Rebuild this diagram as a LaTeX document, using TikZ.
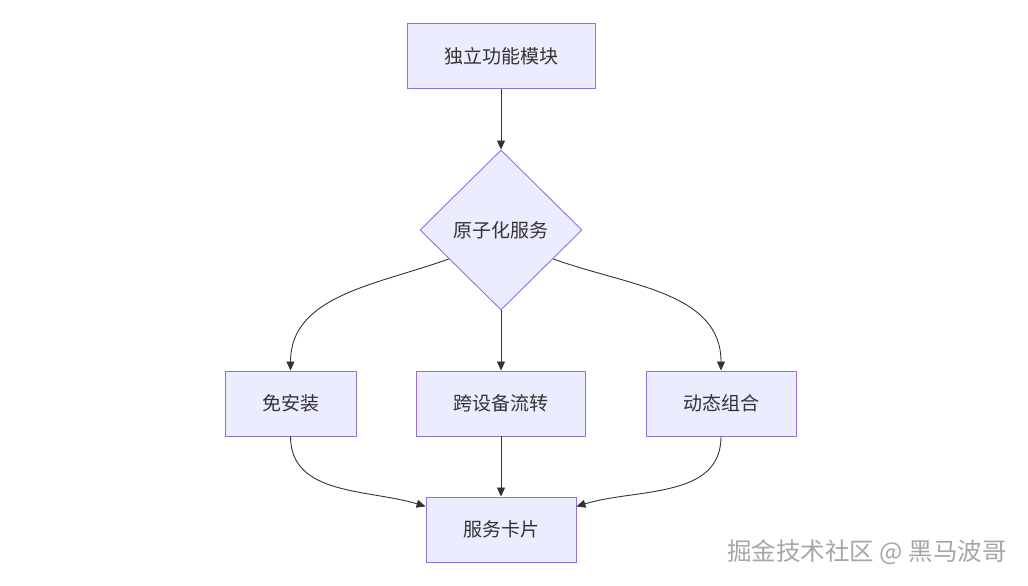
\documentclass[tikz,border=0pt]{standalone}
\usepackage{fontspec}
\setmainfont{Noto Sans CJK SC}
\usetikzlibrary{shapes.geometric}
\usetikzlibrary{arrows.meta}
\usetikzlibrary{positioning}
\definecolor{boxfill}{HTML}{ECECFF}
\definecolor{boxline}{HTML}{9370DB}
\definecolor{ink}{HTML}{333333}

\begin{document}
\begin{tikzpicture}[x=1pt,y=1pt,
  every node/.style={font=\fontsize{19}{21}\selectfont,text=ink},
  box/.style={rectangle,draw=boxline,fill=boxfill,line width=0.9pt,minimum height=65pt},
  choice/.style={diamond,draw=boxline,fill=boxfill,line width=0.9pt,inner sep=0pt,
    minimum width=162pt,minimum height=160pt},
  link/.style={draw=ink,line width=0.9pt,-{Triangle[length=9pt,width=8pt]}}]
\useasboundingbox (0,0) rectangle (1028,586);
\node[box,minimum width=188pt] (module) at (501,530) {独立功能模块};
\node[choice] (atom) at (501,356) {原子化服务};
\node[box,minimum width=131pt] (noinstall) at (290.5,182.5) {免安装};
\node[box,minimum width=169pt] (flow) at (501,182.5) {跨设备流转};
\node[box,minimum width=150pt] (combine) at (721,182.5) {动态组合};
\node[box,minimum width=150pt] (card) at (501,56.5) {服务卡片};
% watermark
\node[text=gray!70,font=\fontsize{24.5}{26}\selectfont] (mark) at (867,34) {掘金技术社区 @ 黑马波哥};

\draw[link] (module) -- (atom);
\draw[link] (atom.209) to[out=200,in=90] (noinstall.north);
\draw[link] (atom) -- (flow);
\draw[link] (atom.-29) to[out=-20,in=90] (combine.north);
\draw[link] (noinstall.south) to[out=-90,in=163] (card.163);
\draw[link] (flow) -- (card);
\draw[link] (combine.south) to[out=-90,in=17] (card.17);
\end{tikzpicture}
\end{document}
